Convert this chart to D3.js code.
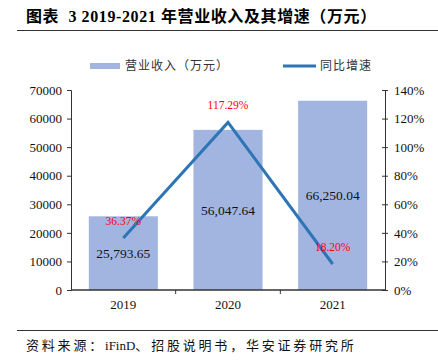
<!DOCTYPE html>
<html><head><meta charset="utf-8">
<script src="https://cdn.jsdelivr.net/npm/d3@7"></script>
<style>body{margin:0;background:#fff}svg{display:block}text{font-family:"Liberation Serif","Times New Roman","Noto Sans CJK SC",serif}</style>
</head><body><svg id="c" width="438" height="364"></svg>
<script>
const categories=["2019","2020","2021"];
const revenue=[25793.65,56047.64,66250.04];
const growth=[36.37,117.29,18.20];
const revenueLabels=["25,793.65","56,047.64","66,250.04"];
const growthLabels=["36.37%","117.29%","18.20%"];
const leftTicks=[0,10000,20000,30000,40000,50000,60000,70000];
const rightTicks=[0,20,40,60,80,100,120,140];

const svg=d3.select("#c");
const L=71,R=385,T=90,B=290;
const x=d3.scaleBand().domain(categories).range([L,R]).paddingInner(0.34).paddingOuter(0.17);
const xc=d3.scalePoint().domain(categories).range([L,R]).padding(0.5);
const y=d3.scaleLinear().domain([0,70000]).range([B,T]);
const y2=d3.scaleLinear().domain([0,140]).range([B,T]);
const barColor="#A1B5E0", lineColor="#2E75B6";

// title
svg.append("text").attr("x",26).attr("y",22).attr("font-size",16).attr("font-weight","bold")
  .attr("font-family",'"Liberation Serif","Noto Sans CJK SC",serif').attr("letter-spacing",0.6)
  .style("white-space","pre").text("图表  3 2019-2021 年营业收入及其增速（万元）");
svg.append("line").attr("x1",17).attr("x2",438).attr("y1",30.5).attr("y2",30.5).attr("stroke","#333").attr("stroke-width",1);

// legend
svg.append("rect").attr("x",90).attr("y",63).attr("width",30).attr("height",6).attr("fill",barColor);
svg.append("text").attr("x",125).attr("y",70).attr("font-size",12).attr("fill","#333").attr("font-family",'"Noto Sans CJK SC",sans-serif').attr("letter-spacing",1).text("营业收入（万元）");
svg.append("line").attr("x1",283).attr("x2",316).attr("y1",66).attr("y2",66).attr("stroke",lineColor).attr("stroke-width",3);
svg.append("text").attr("x",320).attr("y",70).attr("font-size",12).attr("fill","#333").attr("font-family",'"Noto Sans CJK SC",sans-serif').attr("letter-spacing",1).text("同比增速");

// bars
svg.selectAll("rect.bar").data(categories).join("rect").attr("class","bar")
  .attr("x",d=>x(d)).attr("width",x.bandwidth())
  .attr("y",(d,i)=>y(revenue[i])).attr("height",(d,i)=>B-y(revenue[i])).attr("fill",barColor);

// axes
const ga=svg.append("g").attr("transform",`translate(${L},0)`).call(d3.axisLeft(y).tickValues(leftTicks).tickSize(4).tickPadding(5).tickFormat(d3.format("d")));
const gb=svg.append("g").attr("transform",`translate(${R},0)`).call(d3.axisRight(y2).tickValues(rightTicks).tickSize(0).tickPadding(9).tickFormat(d=>d+"%"));
gb.selectAll(".tick").append("line").attr("x1",-3).attr("x2",3).attr("stroke","#333");
const gx=svg.append("g").attr("transform",`translate(0,${B})`).call(d3.axisBottom(x).tickSize(0).tickPadding(10));
gx.select(".domain").remove();
svg.append("line").attr("x1",L).attr("x2",R).attr("y1",B).attr("y2",B).attr("stroke","#333").attr("stroke-width",1.3);
const sep=[L+ (R-L)/3, L+2*(R-L)/3];
svg.selectAll("line.sep").data(sep).join("line").attr("class","sep").attr("x1",d=>d).attr("x2",d=>d).attr("y1",B).attr("y2",B+4).attr("stroke","#333");
[ga,gb,gx].forEach(g=>{g.selectAll(".domain").attr("stroke","#333");g.selectAll(".tick line").attr("stroke","#333");g.selectAll("text").attr("font-size",13).attr("fill","#111").attr("font-family",'"Liberation Serif",serif');});

// line
svg.append("path").datum(growth).attr("fill","none").attr("stroke",lineColor).attr("stroke-width",3)
  .attr("d",d3.line().x((d,i)=>xc(categories[i])).y(d=>y2(d)));

// labels
svg.selectAll("text.rv").data(categories).join("text").attr("class","rv")
  .attr("x",d=>xc(d)).attr("y",(d,i)=>(y(revenue[i])+B)/2+5).attr("text-anchor","middle").attr("font-size",13.5).attr("fill","#111").text((d,i)=>revenueLabels[i]);
svg.selectAll("text.gr").data(categories).join("text").attr("class","gr")
  .attr("x",d=>xc(d)).attr("y",(d,i)=>y2(growth[i])-13).attr("text-anchor","middle").attr("font-size",11.5).attr("fill","#FF0000").text((d,i)=>growthLabels[i]);

// source
svg.append("line").attr("x1",17).attr("x2",438).attr("y1",330.5).attr("y2",330.5).attr("stroke","#333").attr("stroke-width",1);
const src=svg.append("text").attr("x",26).attr("y",350).attr("font-size",13).attr("fill","#111")
  .attr("font-family",'"Liberation Serif","Noto Sans CJK SC",serif');
src.append("tspan").attr("letter-spacing",2.8).text("资料来源：");
src.append("tspan").text("iFinD");
src.append("tspan").attr("letter-spacing",2.8).text("、招股说明书，华安证券研究所");
</script></body></html>
